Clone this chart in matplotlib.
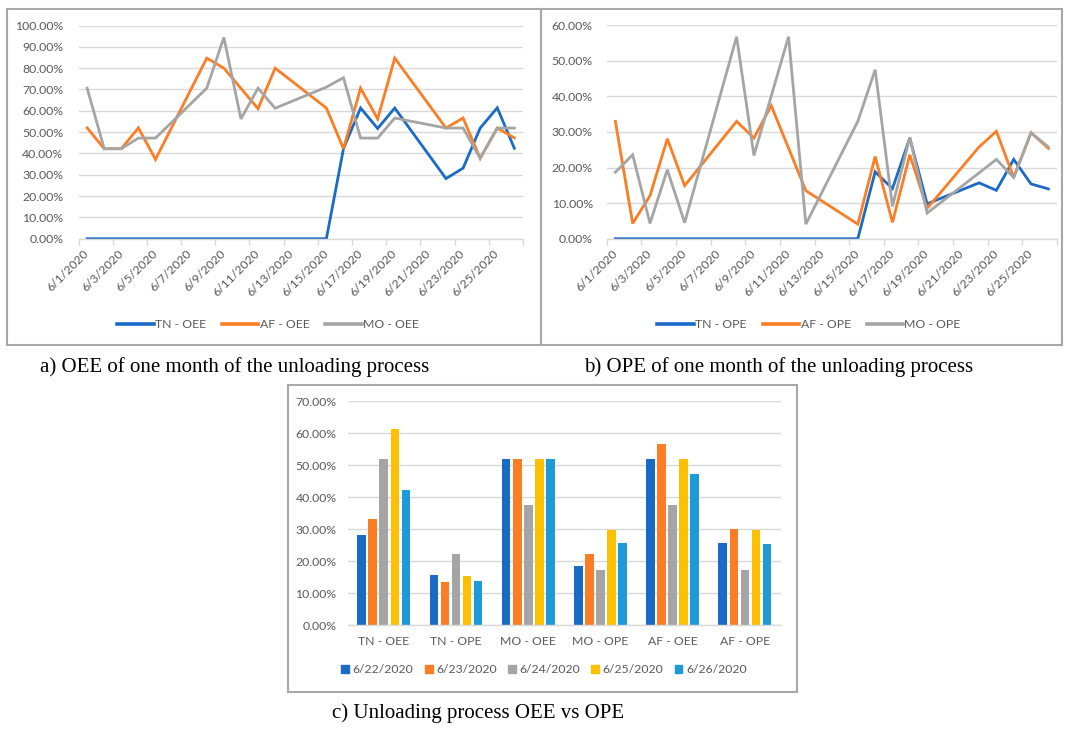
import numpy as np
import matplotlib
matplotlib.use('Agg')
import matplotlib.pyplot as plt
from matplotlib.patches import Rectangle, Patch

# === DATA (percent) ===
days = [f'6/{d}/2020' for d in range(1, 27)]

# Daily OEE, None = no record for that day
tn_oee = [0, 0, 0, 0, 0, None, None, 0, 0, 0, 0, 0, None, None,
          0, 42.2, 61.3, 51.7, 61.3, None, None, 28.2, 33.1, 51.9, 61.4, 42.4]
af_oee = [52.0, 42.2, 42.2, 52.0, 37.2, None, None, 84.7, 80.0, None, 61.0, 80.0, None, None,
          61.3, 42.2, 70.6, 56.2, 84.7, None, None, 51.9, 56.6, 37.7, 51.9, 47.3]
mo_oee = [70.6, 42.2, 42.2, 47.2, 47.2, None, None, 70.6, 94.4, 56.2, 70.6, 61.2, None, None,
          71.1, 75.5, 47.2, 47.2, 56.6, None, None, 51.9, 51.9, 37.7, 51.9, 51.9]

# Daily OPE
tn_ope = [0, 0, 0, 0, 0, None, None, 0, 0, 0, 0, 0, None, None,
          0, 18.8, 14.1, 28.3, 9.8, None, None, 15.7, 13.6, 22.3, 15.4, 14.0]
af_ope = [33.0, 4.3, 12.1, 28.1, 14.9, None, None, 33.0, 28.3, 37.4, None, 13.5, None, None,
          4.1, 23.1, 4.6, 23.6, 8.5, None, None, 25.8, 30.2, 17.2, 29.8, 25.4]
mo_ope = [18.7, 23.6, 4.3, 19.4, 4.5, None, None, 56.8, 23.4, None, 56.8, 4.1, None, None,
          33.0, 47.5, 9.1, 28.5, 7.2, None, None, 18.5, 22.3, 17.2, 29.8, 25.8]

# Last five days compared side by side
bar_categories = ['TN - OEE', 'TN - OPE', 'MO - OEE', 'MO - OPE', 'AF - OEE', 'AF - OPE']
bar_series = [tn_oee, tn_ope, mo_oee, mo_ope, af_oee, af_ope]
bar_dates = days[21:26]

# === STYLE ===
BLUE = '#1A6BC6'
ORANGE = '#FB7D24'
GRAY = '#A5A5A5'
YELLOW = '#FFC000'
LBLUE = '#1C9BD8'
GRID = '#D9D9D9'
TXT = '#595959'
BOX = '#A8A8A8'
FS = 8.8

plt.rcParams['font.family'] = ['Lato', 'DejaVu Sans']

W, H = 1067, 729
fig = plt.figure(figsize=(W / 100, H / 100), dpi=100)
fig.patch.set_facecolor('white')


def px_axes(left, top, right, bottom):
    return fig.add_axes([left / W, 1 - bottom / H, (right - left) / W, (bottom - top) / H])


def px_box(left, top, right, bottom):
    fig.patches.append(Rectangle((left / W, 1 - bottom / H), (right - left) / W, (bottom - top) / H,
                                 transform=fig.transFigure, fill=False, ec=BOX, lw=1.5))


def style_axes(ax, ymax, step):
    for s in ['top', 'right', 'left']:
        ax.spines[s].set_visible(False)
    ax.spines['bottom'].set_color(GRID)
    ax.spines['bottom'].set_linewidth(1)
    ax.set_ylim(0, ymax)
    ticks = np.arange(0, ymax + 0.01, step)
    ax.set_yticks(ticks)
    ax.set_yticklabels([f'{t:.2f}%' for t in ticks])
    ax.yaxis.grid(True, color=GRID, lw=1)
    ax.set_axisbelow(True)
    ax.tick_params(axis='y', length=0, colors=TXT, labelsize=FS)


def line_panel(ax, series, labels, ymax, ypad, legend_xy):
    x = np.arange(len(days)) + 0.5
    for vals, lab, col in zip(series, labels, [BLUE, ORANGE, GRAY]):
        v = np.array([np.nan if s is None else s for s in vals], dtype=float)
        ok = ~np.isnan(v)
        ax.plot(x[ok], v[ok], color=col, lw=2.0, label=lab, solid_joinstyle='miter')
    style_axes(ax, ymax, 10)
    ax.tick_params(axis='y', pad=ypad)
    ax.set_xlim(0, len(days))
    ax.set_xticks(np.arange(0, len(days), 2) + 0.5)
    ax.set_xticklabels(days[::2], rotation=45, ha='right', va='center', rotation_mode='anchor')
    ax.tick_params(axis='x', which='major', length=0, pad=9, colors=TXT, labelsize=FS)
    ax.set_xticks(np.arange(0, len(days) + 1, 2), minor=True)
    ax.tick_params(axis='x', which='minor', length=4, color=GRID, width=1)
    ax.legend(loc='center', bbox_to_anchor=(legend_xy[0] / W, 1 - legend_xy[1] / H),
              bbox_transform=fig.transFigure, ncol=3, frameon=False, fontsize=FS,
              handlelength=3.0, handletextpad=0.1, columnspacing=1.3, labelcolor=TXT)
    for h in ax.get_legend().get_lines():
        h.set_linewidth(2.6)


# === a) OEE over the month ===
px_box(7, 9, 541, 345)
ax1 = px_axes(78.6, 25.5, 522.9, 238.7)
line_panel(ax1, [tn_oee, af_oee, mo_oee], ['TN - OEE', 'AF - OEE', 'MO - OEE'], 100, 11, (268, 325))

# === b) OPE over the month ===
px_box(541, 9, 1062, 345)
ax2 = px_axes(606.7, 25.3, 1057, 238.7)
line_panel(ax2, [tn_ope, af_ope, mo_ope], ['TN - OPE', 'AF - OPE', 'MO - OPE'], 60, 10, (809, 325))

# === c) grouped bars for the last five days ===
px_box(287.7, 385, 796.7, 691.7)
ax3 = px_axes(347.7, 401.3, 781, 625.3)
bar_colors = [BLUE, ORANGE, GRAY, YELLOW, LBLUE]
xc = np.arange(len(bar_categories))
step, width = 0.153, 0.12
for j, (d, col) in enumerate(zip(bar_dates, bar_colors)):
    vals = [s[21 + j] for s in bar_series]
    ax3.bar(xc + (j - 2) * step, vals, width=width, color=col, label=d)
style_axes(ax3, 70, 10)
ax3.tick_params(axis='y', pad=8)
ax3.set_xlim(-0.5, len(bar_categories) - 0.5)
ax3.set_xticks(xc)
ax3.set_xticklabels(bar_categories)
ax3.tick_params(axis='x', length=0, pad=8, colors=TXT, labelsize=FS)
handles = [Patch(color=c) for c in bar_colors]
ax3.legend(handles, bar_dates, loc='center', bbox_to_anchor=(544 / W, 1 - 669.5 / H),
           bbox_transform=fig.transFigure, ncol=5, frameon=False, fontsize=FS,
           handlelength=0.65, handleheight=0.65, handletextpad=0.3, columnspacing=0.9,
           labelcolor=TXT)

# === captions ===
cap = dict(family=['Liberation Serif', 'DejaVu Serif'], fontsize=15, ha='center', va='baseline')
fig.text(234.5 / W, 1 - 372 / H, 'a) OEE of one month of the unloading process', **cap)
fig.text(779 / W, 1 - 372 / H, 'b) OPE of one month of the unloading process', **cap)
fig.text(478.5 / W, 1 - 718 / H, 'c) Unloading process OEE vs OPE', **cap)

fig.savefig('out.png', dpi=100)
